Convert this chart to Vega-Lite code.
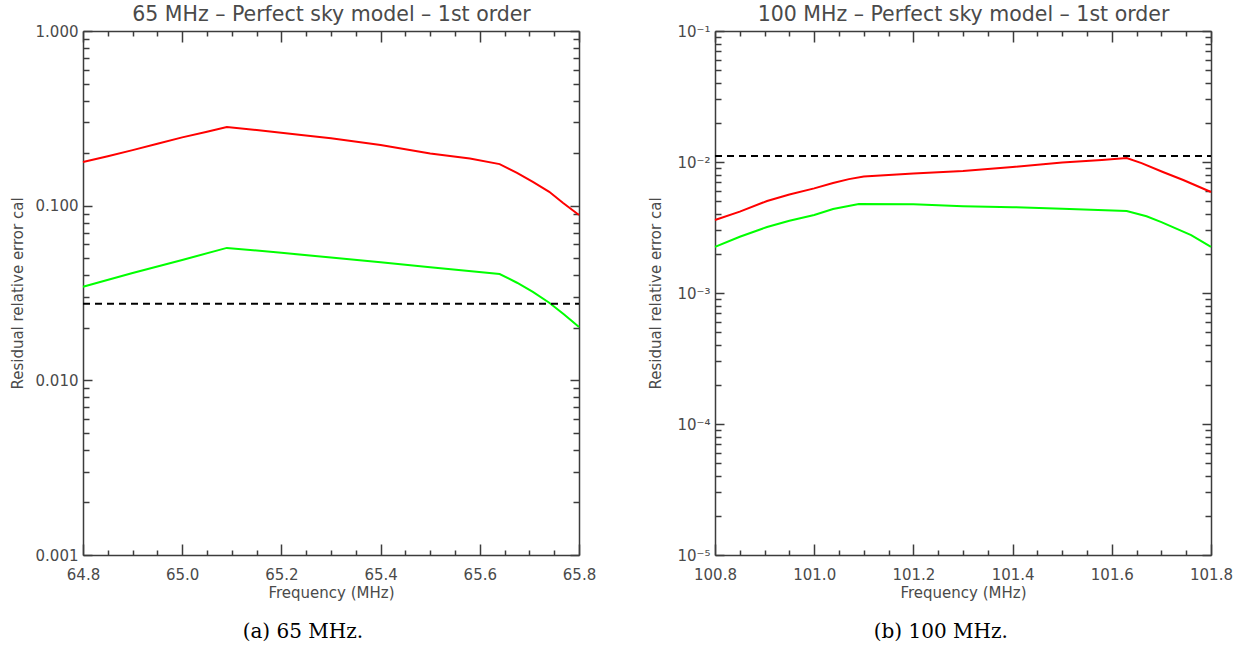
{
  "$schema": "https://vega.github.io/schema/vega-lite/v6.json",
  "background": "white",
  "padding": {"left": 10, "top": 4, "right": 10, "bottom": 5},
  "bounds": "flush",
  "spacing": 136,
  "config": {
    "view": {"stroke": null},
    "axis": {
      "grid": false,
      "domainColor": "#3c3c3c",
      "domainWidth": 1.5,
      "tickColor": "#3c3c3c",
      "tickWidth": 1.5,
      "labelColor": "#4a4a4a",
      "titleColor": "#4a4a4a",
      "labelFont": "DejaVu Sans",
      "titleFont": "DejaVu Sans",
      "labelFontSize": 15,
      "titleFontSize": 15,
      "titleFontWeight": "normal",
      "labelOverlap": false,
      "labelFlush": false
    },
    "title": {"font": "DejaVu Serif", "fontSize": 20, "fontWeight": "normal", "color": "black"}
  },
  "datasets": {
    "curves65": [
      {"freq": 64.80, "err": 0.178, "series": "upper"},
      {"freq": 64.85, "err": 0.192, "series": "upper"},
      {"freq": 64.90, "err": 0.208, "series": "upper"},
      {"freq": 64.95, "err": 0.226, "series": "upper"},
      {"freq": 65.00, "err": 0.246, "series": "upper"},
      {"freq": 65.05, "err": 0.265, "series": "upper"},
      {"freq": 65.09, "err": 0.282, "series": "upper"},
      {"freq": 65.15, "err": 0.271, "series": "upper"},
      {"freq": 65.24, "err": 0.254, "series": "upper"},
      {"freq": 65.30, "err": 0.243, "series": "upper"},
      {"freq": 65.40, "err": 0.2226, "series": "upper"},
      {"freq": 65.50, "err": 0.199, "series": "upper"},
      {"freq": 65.58, "err": 0.186, "series": "upper"},
      {"freq": 65.64, "err": 0.173, "series": "upper"},
      {"freq": 65.675, "err": 0.154, "series": "upper"},
      {"freq": 65.707, "err": 0.1367, "series": "upper"},
      {"freq": 65.74, "err": 0.120, "series": "upper"},
      {"freq": 65.768, "err": 0.1036, "series": "upper"},
      {"freq": 65.80, "err": 0.0885, "series": "upper"},
      {"freq": 64.80, "err": 0.0343, "series": "lower"},
      {"freq": 64.90, "err": 0.0412, "series": "lower"},
      {"freq": 65.00, "err": 0.0489, "series": "lower"},
      {"freq": 65.09, "err": 0.0573, "series": "lower"},
      {"freq": 65.20, "err": 0.0537, "series": "lower"},
      {"freq": 65.30, "err": 0.0505, "series": "lower"},
      {"freq": 65.40, "err": 0.0474, "series": "lower"},
      {"freq": 65.50, "err": 0.0444, "series": "lower"},
      {"freq": 65.64, "err": 0.0406, "series": "lower"},
      {"freq": 65.675, "err": 0.0362, "series": "lower"},
      {"freq": 65.707, "err": 0.0321, "series": "lower"},
      {"freq": 65.74, "err": 0.0278, "series": "lower"},
      {"freq": 65.77, "err": 0.0238, "series": "lower"},
      {"freq": 65.80, "err": 0.0202, "series": "lower"}
    ],
    "limit65": [
      {"f0": 64.8, "f1": 65.8, "level": 0.0274}
    ],
    "curves100": [
      {"freq": 100.80, "err": 0.00361, "series": "upper"},
      {"freq": 100.85, "err": 0.00418, "series": "upper"},
      {"freq": 100.905, "err": 0.00504, "series": "upper"},
      {"freq": 100.95, "err": 0.00565, "series": "upper"},
      {"freq": 101.00, "err": 0.00629, "series": "upper"},
      {"freq": 101.038, "err": 0.00692, "series": "upper"},
      {"freq": 101.07, "err": 0.00740, "series": "upper"},
      {"freq": 101.10, "err": 0.00775, "series": "upper"},
      {"freq": 101.20, "err": 0.00817, "series": "upper"},
      {"freq": 101.30, "err": 0.00853, "series": "upper"},
      {"freq": 101.40, "err": 0.00916, "series": "upper"},
      {"freq": 101.50, "err": 0.00990, "series": "upper"},
      {"freq": 101.58, "err": 0.01035, "series": "upper"},
      {"freq": 101.63, "err": 0.01074, "series": "upper"},
      {"freq": 101.66, "err": 0.00980, "series": "upper"},
      {"freq": 101.703, "err": 0.00839, "series": "upper"},
      {"freq": 101.744, "err": 0.00729, "series": "upper"},
      {"freq": 101.80, "err": 0.00590, "series": "upper"},
      {"freq": 100.80, "err": 0.00225, "series": "lower"},
      {"freq": 100.85, "err": 0.00269, "series": "lower"},
      {"freq": 100.905, "err": 0.00319, "series": "lower"},
      {"freq": 100.95, "err": 0.00356, "series": "lower"},
      {"freq": 101.00, "err": 0.00394, "series": "lower"},
      {"freq": 101.038, "err": 0.00438, "series": "lower"},
      {"freq": 101.09, "err": 0.00478, "series": "lower"},
      {"freq": 101.20, "err": 0.00476, "series": "lower"},
      {"freq": 101.30, "err": 0.00460, "series": "lower"},
      {"freq": 101.40, "err": 0.00452, "series": "lower"},
      {"freq": 101.50, "err": 0.00440, "series": "lower"},
      {"freq": 101.63, "err": 0.00423, "series": "lower"},
      {"freq": 101.67, "err": 0.00385, "series": "lower"},
      {"freq": 101.70, "err": 0.00348, "series": "lower"},
      {"freq": 101.76, "err": 0.00277, "series": "lower"},
      {"freq": 101.80, "err": 0.00225, "series": "lower"}
    ],
    "limit100": [
      {"f0": 100.8, "f1": 101.8, "level": 0.0111}
    ]
  },
  "hconcat": [
    {
      "width": 496,
      "height": 524,
      "title": {"text": "(a) 65 MHz.", "orient": "bottom", "anchor": "middle", "frame": "bounds", "offset": 22},
      "resolve": {"axis": {"x": "independent", "y": "independent"}},
      "layer": [
        {
          "data": {"name": "curves65"},
          "mark": {"type": "line", "strokeWidth": 2},
          "encoding": {
            "x": {
              "field": "freq", "type": "quantitative",
              "scale": {"domain": [64.8, 65.8], "nice": false, "zero": false},
              "axis": {
                "orient": "bottom",
                "values": [64.8, 64.85, 64.9, 64.95, 65.0, 65.05, 65.1, 65.15, 65.2, 65.25, 65.3, 65.35, 65.4, 65.45, 65.5, 65.55, 65.6, 65.65, 65.7, 65.75, 65.8],
                "labelExpr": "abs(datum.value*5 - round(datum.value*5)) < 0.01 ? format(datum.value, '.1f') : ''",
                "tickSize": {"condition": {"test": "abs(datum.value*5 - round(datum.value*5)) < 0.01", "value": -11}, "value": -5},
                "labelPadding": 23,
                "title": "Frequency (MHz)",
                "titlePadding": -3
              }
            },
            "y": {
              "field": "err", "type": "quantitative",
              "scale": {"type": "log", "domain": [0.001, 1], "nice": false},
              "axis": {
                "orient": "left",
                "values": [0.001, 0.002, 0.003, 0.004, 0.005, 0.006, 0.007, 0.008, 0.009, 0.01, 0.02, 0.03, 0.04, 0.05, 0.06, 0.07, 0.08, 0.09, 0.1, 0.2, 0.3, 0.4, 0.5, 0.6, 0.7, 0.8, 0.9, 1],
                "labelExpr": "abs(log(datum.value)/LN10 - round(log(datum.value)/LN10)) < 0.001 ? format(datum.value, '.3f') : ''",
                "tickSize": {"condition": {"test": "abs(log(datum.value)/LN10 - round(log(datum.value)/LN10)) < 0.001", "value": -9}, "value": -6},
                "labelPadding": 14,
                "title": "Residual relative error cal",
                "titlePadding": 10
              }
            },
            "color": {
              "field": "series", "type": "nominal",
              "scale": {"domain": ["upper", "lower"], "range": ["#ff0000", "#00ff00"]},
              "legend": null
            }
          }
        },
        {
          "data": {"name": "limit65"},
          "mark": {"type": "rule", "color": "black", "strokeWidth": 2, "strokeDash": [7, 5]},
          "encoding": {
            "x": {
              "field": "f0", "type": "quantitative",
              "scale": {"domain": [64.8, 65.8], "nice": false, "zero": false},
              "axis": {
                "orient": "top",
                "values": [64.8, 64.85, 64.9, 64.95, 65.0, 65.05, 65.1, 65.15, 65.2, 65.25, 65.3, 65.35, 65.4, 65.45, 65.5, 65.55, 65.6, 65.65, 65.7, 65.75, 65.8],
                "labels": false,
                "tickSize": {"condition": {"test": "abs(datum.value*5 - round(datum.value*5)) < 0.01", "value": -11}, "value": -5},
                "title": "65 MHz – Perfect sky model – 1st order",
                "titleFontSize": 20.5,
                "titlePadding": 6
              }
            },
            "x2": {"field": "f1"},
            "y": {
              "field": "level", "type": "quantitative",
              "scale": {"type": "log", "domain": [0.001, 1], "nice": false},
              "axis": {
                "orient": "right",
                "values": [0.001, 0.002, 0.003, 0.004, 0.005, 0.006, 0.007, 0.008, 0.009, 0.01, 0.02, 0.03, 0.04, 0.05, 0.06, 0.07, 0.08, 0.09, 0.1, 0.2, 0.3, 0.4, 0.5, 0.6, 0.7, 0.8, 0.9, 1],
                "labels": false,
                "tickSize": {"condition": {"test": "abs(log(datum.value)/LN10 - round(log(datum.value)/LN10)) < 0.001", "value": -9}, "value": -6},
                "title": null
              }
            }
          }
        }
      ]
    },
    {
      "width": 496,
      "height": 524,
      "title": {"text": "(b) 100 MHz.", "orient": "bottom", "anchor": "middle", "frame": "bounds", "offset": 22},
      "resolve": {"axis": {"x": "independent", "y": "independent"}},
      "layer": [
        {
          "data": {"name": "curves100"},
          "mark": {"type": "line", "strokeWidth": 2},
          "encoding": {
            "x": {
              "field": "freq", "type": "quantitative",
              "scale": {"domain": [100.8, 101.8], "nice": false, "zero": false},
              "axis": {
                "orient": "bottom",
                "values": [100.8, 100.85, 100.9, 100.95, 101.0, 101.05, 101.1, 101.15, 101.2, 101.25, 101.3, 101.35, 101.4, 101.45, 101.5, 101.55, 101.6, 101.65, 101.7, 101.75, 101.8],
                "labelExpr": "abs(datum.value*5 - round(datum.value*5)) < 0.01 ? format(datum.value, '.1f') : ''",
                "tickSize": {"condition": {"test": "abs(datum.value*5 - round(datum.value*5)) < 0.01", "value": -11}, "value": -5},
                "labelPadding": 23,
                "title": "Frequency (MHz)",
                "titlePadding": -3
              }
            },
            "y": {
              "field": "err", "type": "quantitative",
              "scale": {"type": "log", "domain": [0.00001, 0.1], "nice": false},
              "axis": {
                "orient": "left",
                "values": [0.00001, 0.00002, 0.00003, 0.00004, 0.00005, 0.00006, 0.00007, 0.00008, 0.00009, 0.0001, 0.0002, 0.0003, 0.0004, 0.0005, 0.0006, 0.0007, 0.0008, 0.0009, 0.001, 0.002, 0.003, 0.004, 0.005, 0.006, 0.007, 0.008, 0.009, 0.01, 0.02, 0.03, 0.04, 0.05, 0.06, 0.07, 0.08, 0.09, 0.1],
                "labelExpr": "abs(log(datum.value)/LN10 - round(log(datum.value)/LN10)) < 0.001 ? '10' + ['⁻⁵', '⁻⁴', '⁻³', '⁻²', '⁻¹'][round(log(datum.value)/LN10) + 5] : ''",
                "tickSize": {"condition": {"test": "abs(log(datum.value)/LN10 - round(log(datum.value)/LN10)) < 0.001", "value": -9}, "value": -6},
                "labelPadding": 14,
                "title": "Residual relative error cal",
                "titlePadding": 13
              }
            },
            "color": {
              "field": "series", "type": "nominal",
              "scale": {"domain": ["upper", "lower"], "range": ["#ff0000", "#00ff00"]},
              "legend": null
            }
          }
        },
        {
          "data": {"name": "limit100"},
          "mark": {"type": "rule", "color": "black", "strokeWidth": 2, "strokeDash": [7, 5]},
          "encoding": {
            "x": {
              "field": "f0", "type": "quantitative",
              "scale": {"domain": [100.8, 101.8], "nice": false, "zero": false},
              "axis": {
                "orient": "top",
                "values": [100.8, 100.85, 100.9, 100.95, 101.0, 101.05, 101.1, 101.15, 101.2, 101.25, 101.3, 101.35, 101.4, 101.45, 101.5, 101.55, 101.6, 101.65, 101.7, 101.75, 101.8],
                "labels": false,
                "tickSize": {"condition": {"test": "abs(datum.value*5 - round(datum.value*5)) < 0.01", "value": -11}, "value": -5},
                "title": "100 MHz – Perfect sky model – 1st order",
                "titleFontSize": 20.5,
                "titlePadding": 6
              }
            },
            "x2": {"field": "f1"},
            "y": {
              "field": "level", "type": "quantitative",
              "scale": {"type": "log", "domain": [0.00001, 0.1], "nice": false},
              "axis": {
                "orient": "right",
                "values": [0.00001, 0.00002, 0.00003, 0.00004, 0.00005, 0.00006, 0.00007, 0.00008, 0.00009, 0.0001, 0.0002, 0.0003, 0.0004, 0.0005, 0.0006, 0.0007, 0.0008, 0.0009, 0.001, 0.002, 0.003, 0.004, 0.005, 0.006, 0.007, 0.008, 0.009, 0.01, 0.02, 0.03, 0.04, 0.05, 0.06, 0.07, 0.08, 0.09, 0.1],
                "labels": false,
                "tickSize": {"condition": {"test": "abs(log(datum.value)/LN10 - round(log(datum.value)/LN10)) < 0.001", "value": -9}, "value": -6},
                "title": null
              }
            }
          }
        }
      ]
    }
  ]
}
